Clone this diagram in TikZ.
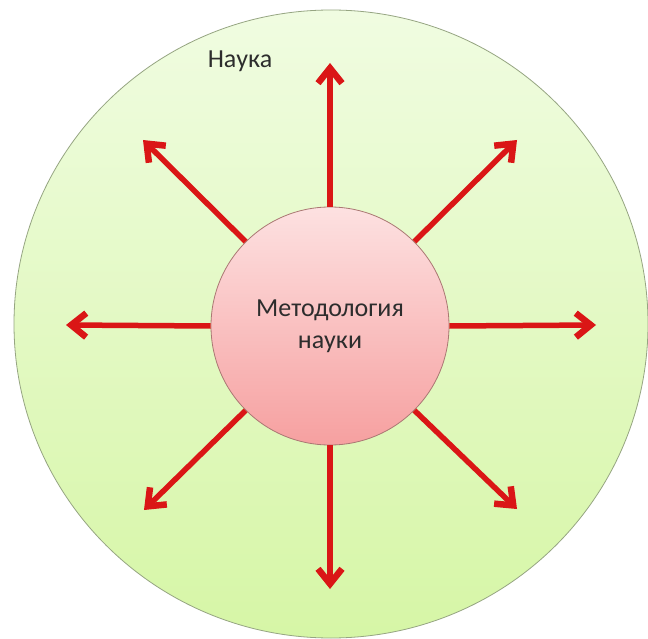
\documentclass[tikz,border=0pt]{standalone}
\usepackage{fontspec}
\setmainfont{Carlito}
\usetikzlibrary{arrows.meta,shapes.geometric}
\definecolor{arrred}{RGB}{218,22,22}
\definecolor{outerline}{RGB}{150,165,130}
\definecolor{innerline}{RGB}{170,120,115}
\definecolor{txt}{RGB}{45,45,45}
\tikzset{
  outerdisc/.style={ellipse, minimum width=634pt, minimum height=628pt, inner sep=0pt,
    draw=outerline, line width=0.8pt, top color={rgb,255:red,240;green,252;blue,225},
    bottom color={rgb,255:red,214;green,246;blue,166}},
  innerdisc/.style={circle, minimum size=238pt, inner sep=0pt, draw=innerline, line width=0.8pt,
    top color={rgb,255:red,253;green,225;blue,225}, bottom color={rgb,255:red,246;green,160;blue,160},
    text=txt, align=center, font=\fontsize{26}{32}\selectfont},
  lbl/.style={text=txt, font=\fontsize{26}{30}\selectfont, inner sep=0pt},
  arr/.style={draw=arrred, line width=5.5pt, -{Straight Barb[length=15pt, width=24pt, line width=6.5pt, line join=miter]}}
}
\begin{document}
\begin{tikzpicture}[x=1pt,y=-1pt]
\useasboundingbox (0,0) rectangle (648,639);
\fill[white] (0,0) rectangle (648,639);
\node[outerdisc] (outer) at (331,324) {};
\node[lbl] (nauka) at (240,61) {Наука};
\node[innerdisc] (inner) at (330,326) {Методология\\науки};
\coordinate (tN)  at (330,63);
\coordinate (tS)  at (330,589);
\coordinate (tW)  at (66,325);
\coordinate (tE)  at (596,325);
\coordinate (tNW) at (143,140);
\coordinate (tNE) at (517,140);
\coordinate (tSW) at (144,510);
\coordinate (tSE) at (517,509);
\draw[arr] (inner.90)  -- (tN);
\draw[arr] (inner.270) -- (tS);
\draw[arr] (inner.180) -- (tW);
\draw[arr] (inner.0)   -- (tE);
\draw[arr] (inner.135) -- (tNW);
\draw[arr] (inner.45)  -- (tNE);
\draw[arr] (inner.225) -- (tSW);
\draw[arr] (inner.315) -- (tSE);
\end{tikzpicture}
\end{document}
